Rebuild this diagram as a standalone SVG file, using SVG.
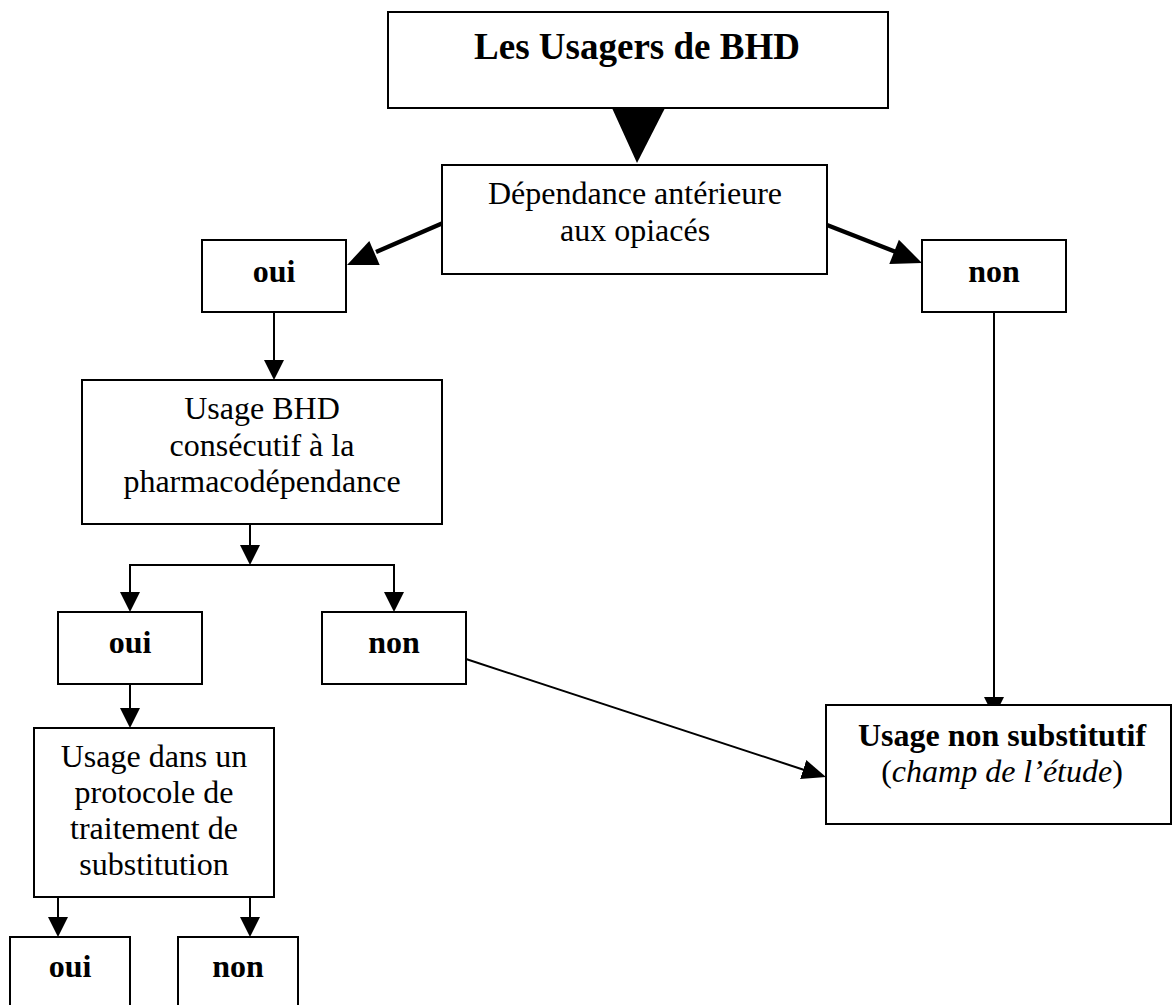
<svg xmlns="http://www.w3.org/2000/svg" width="1172" height="1005" viewBox="0 0 1172 1005">
<style>
  .box { fill: #ffffff; stroke: #000000; stroke-width: 2; }
  .t { font-family: "Liberation Serif", "Times New Roman", serif; font-size: 32px; fill: #000000; text-anchor: middle; }
  .b { font-weight: bold; }
  .title { font-size: 37px; }
  .ln { stroke: #000000; stroke-width: 2; fill: none; }
  .thick { stroke: #000000; stroke-width: 4.5; fill: none; }
  .head { fill: #000000; stroke: none; }
</style>
<defs>
  <marker id="ah" markerUnits="userSpaceOnUse" viewBox="0 0 20 20" markerWidth="20" markerHeight="20" refX="2" refY="10" orient="auto">
    <path d="M0,0 L20,10 L0,20 z" fill="#000000"/>
  </marker>
  <marker id="ah2" markerUnits="userSpaceOnUse" viewBox="0 0 24 20" markerWidth="24" markerHeight="20" refX="2" refY="10" orient="auto">
    <path d="M0,0 L24,10 L0,20 z" fill="#000000"/>
  </marker>
</defs>
<rect x="0" y="0" width="1172" height="1005" fill="#ffffff"/>

<g id="connectors">
  <polygon class="head" points="612,108 665,108 637,163"/>
  <line class="thick" x1="443" y1="223" x2="376" y2="252"/>
  <polygon class="head" points="347,265 369.3,241.1 379.7,264.9"/>
  <line class="thick" x1="827" y1="225" x2="896" y2="252"/>
  <polygon class="head" points="922,263 898.9,239.8 889.3,264"/>
  <line class="ln" x1="274" y1="312" x2="274" y2="362" marker-end="url(#ah)"/>
  <line class="ln" x1="250" y1="519" x2="250" y2="547" marker-end="url(#ah)"/>
  <line class="ln" x1="129" y1="565" x2="395" y2="565"/>
  <line class="ln" x1="130" y1="565" x2="130" y2="594" marker-end="url(#ah)"/>
  <line class="ln" x1="394" y1="565" x2="394" y2="594" marker-end="url(#ah)"/>
  <line class="ln" x1="130" y1="682" x2="130" y2="710" marker-end="url(#ah)"/>
  <line class="ln" x1="58" y1="889" x2="58" y2="919" marker-end="url(#ah)"/>
  <line class="ln" x1="250" y1="897" x2="250" y2="919" marker-end="url(#ah)"/>
  <line class="ln" x1="994" y1="312" x2="994" y2="699" marker-end="url(#ah)"/>
  <line class="ln" x1="466" y1="659" x2="805.1" y2="770.2" marker-end="url(#ah2)"/>
</g>

<g id="node-usagers">
  <rect class="box" x="388" y="12" width="500" height="96"/>
  <text class="t b title" x="637" y="59">Les Usagers de BHD</text>
</g>
<g id="node-dependance">
  <rect class="box" x="442" y="165" width="385" height="109"/>
  <text class="t" x="635" y="204">Dépendance antérieure</text>
  <text class="t" x="635" y="241">aux opiacés</text>
</g>
<g id="node-oui1">
  <rect class="box" x="202" y="240" width="144" height="72"/>
  <text class="t b" x="274" y="282">oui</text>
</g>
<g id="node-non1">
  <rect class="box" x="922" y="240" width="144" height="72"/>
  <text class="t b" x="994" y="282">non</text>
</g>
<g id="node-usage-bhd">
  <rect class="box" x="82" y="380" width="360" height="144"/>
  <text class="t" x="262" y="419">Usage BHD</text>
  <text class="t" x="262" y="456">consécutif à la</text>
  <text class="t" x="262" y="492">pharmacodépendance</text>
</g>
<g id="node-oui2">
  <rect class="box" x="58" y="612" width="144" height="72"/>
  <text class="t b" x="130" y="653">oui</text>
</g>
<g id="node-non2">
  <rect class="box" x="322" y="612" width="144" height="72"/>
  <text class="t b" x="394" y="653">non</text>
</g>
<g id="node-protocole">
  <rect class="box" x="34" y="728" width="240" height="169"/>
  <text class="t" x="154" y="767">Usage dans un</text>
  <text class="t" x="154" y="803">protocole de</text>
  <text class="t" x="154" y="839">traitement de</text>
  <text class="t" x="154" y="875">substitution</text>
</g>
<g id="node-non-substitutif">
  <rect class="box" x="826" y="705" width="345" height="119"/>
  <text class="t b" x="1002" y="746">Usage non substitutif</text>
  <text class="t" x="1002" y="782">(<tspan font-style="italic">champ de l’étude</tspan>)</text>
</g>
<g id="node-oui3">
  <rect class="box" x="10" y="937" width="120" height="80"/>
  <text class="t b" x="70" y="977">oui</text>
</g>
<g id="node-non3">
  <rect class="box" x="178" y="937" width="120" height="80"/>
  <text class="t b" x="238" y="977">non</text>
</g>
</svg>
